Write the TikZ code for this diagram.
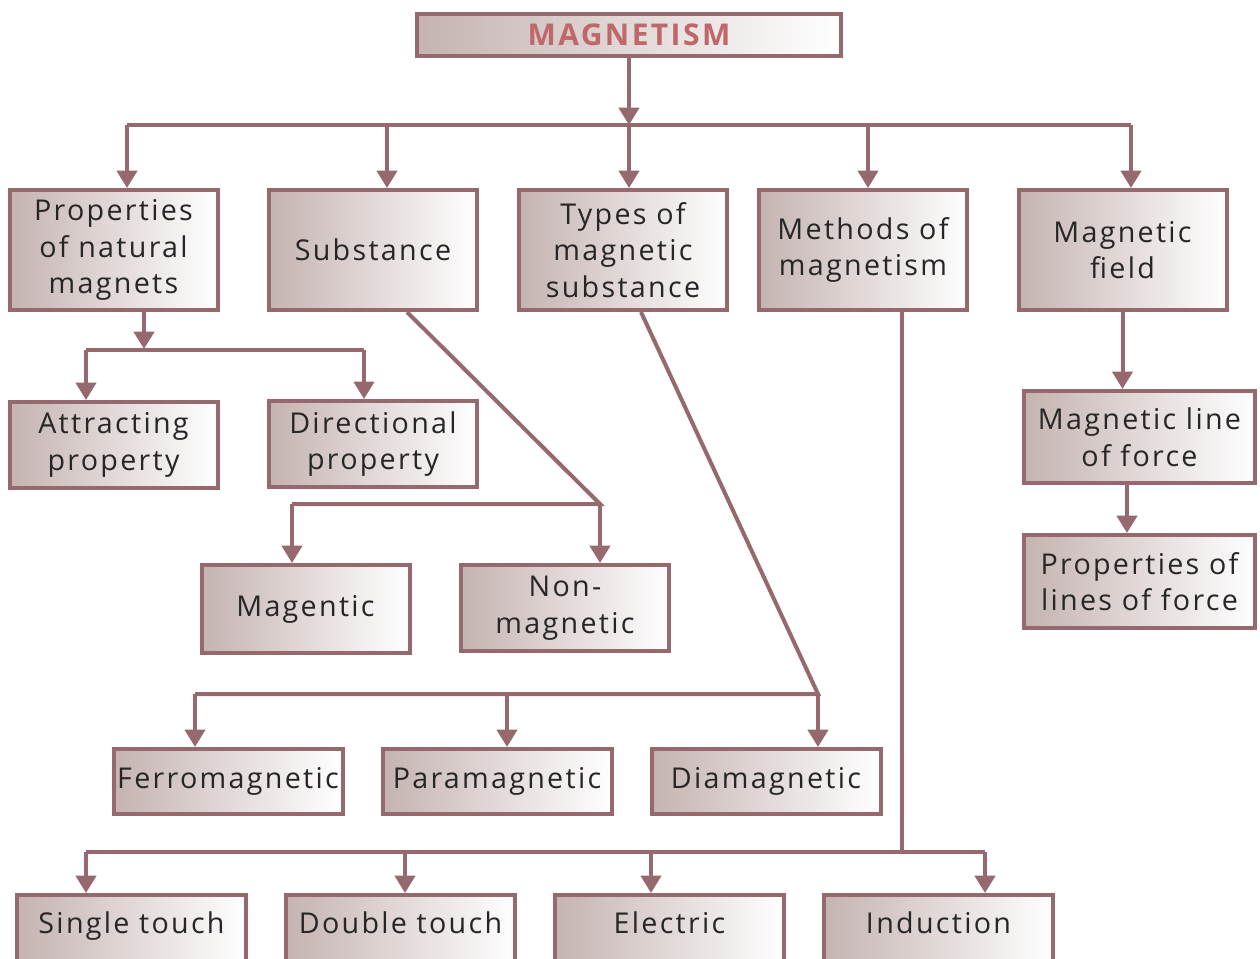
\documentclass[tikz,border=0pt]{standalone}
\usepackage{fontspec}
\setmainfont{Open Sans}[LetterSpace=8]
\usetikzlibrary{arrows.meta}

\definecolor{edgecol}{HTML}{96696E}
\definecolor{shadecol}{HTML}{C4B3B1}
\definecolor{titlecol}{HTML}{C0676A}

\tikzset{
  box/.style={draw=edgecol, line width=3pt, left color=shadecol, right color=white,
    align=center, text=black!85, inner sep=0pt, minimum width=156pt,
    font=\fontsize{21.5}{27.4}\selectfont},
  wide/.style={box, minimum width=171.75pt, minimum height=48.75pt},
  link/.style={draw=edgecol, line width=3pt},
  arr/.style={link, -{Triangle[width=15pt,length=13pt]}},
}

\begin{document}
\begin{tikzpicture}[x=0.75pt,y=-0.75pt]
\useasboundingbox (0,0) rectangle (1260,958);
\clip (0,0) rectangle (1260,958);

% top
\node[box, minimum width=318pt, minimum height=31.5pt, text=titlecol,
  font=\bfseries\fontsize{22.5}{26}\selectfont] (mag) at (629,35) {MAGNETISM};

% first row
\node[box, minimum height=90pt] (prop) at (113.5,250) {Properties\\of natural\\magnets};
\node[box, minimum height=90pt] (subs) at (373,250) {Substance};
\node[box, minimum height=90pt] (types) at (623,250) {Types of\\magnetic\\substance};
\node[box, minimum height=90pt] (meth) at (863,250) {Methods of\\magnetism};
\node[box, minimum height=90pt] (field) at (1122.5,250) {Magnetic\\field};

\coordinate (t0) at (629,125);
\coordinate (t1) at (127,125);
\coordinate (t2) at (387,125);
\coordinate (t3) at (629,125);
\coordinate (t4) at (868,125);
\coordinate (t5) at (1131,125);
\draw[arr] (mag) -- (t0);
\draw[link] (t1) -- (t5);
\foreach \t/\n in {t1/prop, t2/subs, t3/types, t4/meth, t5/field}
  \draw[arr] (\t) -- (\t |- \n.north);

% properties
\node[box, minimum height=64.5pt] (attr) at (113.5,445) {Attracting\\property};
\node[box, minimum height=64.5pt] (dirn) at (373,444) {Directional\\property};
\coordinate (p0) at (144,349);
\coordinate (p1) at (86,350);
\coordinate (p2) at (364,350);
\draw[arr] (prop.south -| p0) -- (p0);
\draw[link] (p1) -- (p2);
\draw[arr] (p1) -- (p1 |- attr.north);
\draw[arr] (p2) -- (p2 |- dirn.north);

% substance
\node[box, minimum height=66pt] (magc) at (305.5,609) {Magentic};
\node[box, minimum height=64.5pt] (nonm) at (565,608) {Non-\\magnetic};
\coordinate (s1) at (292,504);
\coordinate (s2) at (600,504);
\draw[link] ([xshift=25.5pt]subs.south) -- (s2) -- (s1);
\draw[arr] (s1) -- (s1 |- magc.north);
\draw[arr] (s2) -- (s2 |- nonm.north);

% types
\node[wide] (ferro) at (228,781.5) {Ferromagnetic};
\node[wide] (para) at (497,781.5) {Paramagnetic};
\node[wide] (dia) at (766,781.5) {Diamagnetic};
\coordinate (d1) at (195,694);
\coordinate (d2) at (507,694);
\coordinate (d3) at (818,694);
\draw[link] ([xshift=13.5pt]types.south) -- (d3) -- (d1);
\foreach \d/\n in {d1/ferro, d2/para, d3/dia}
  \draw[arr] (\d) -- (\d |- \n.north);

% methods
\tikzset{low/.style={box, anchor=north, minimum width=171.75pt, minimum height=0pt,
  text width=171.75pt, inner ysep=6pt, text height=23pt, text depth=40pt}}
\node[low] (single) at (131.5,893) {Single touch};
\node[low] (double) at (400.5,893) {Double touch};
\node[low] (elec) at (669.5,893) {Electric};
\node[low] (induc) at (938.5,893) {Induction};
\coordinate (m0) at (902,852);
\coordinate (m1) at (86,852);
\coordinate (m2) at (405,852);
\coordinate (m3) at (651,852);
\coordinate (m4) at (985,852);
\draw[link] ([xshift=29.25pt]meth.south) -- (m0);
\draw[link] (m1) -- (m4);
\foreach \m/\n in {m1/single, m2/double, m3/elec, m4/induc}
  \draw[arr] (\m) -- (\m |- \n.north);

% field
\node[box, minimum width=173pt, minimum height=69pt] (mline) at (1139.5,437) {Magnetic line\\of force};
\node[box, minimum width=173pt, minimum height=69.75pt] (plines) at (1139.5,581.5) {Properties of\\lines of force};
\draw[arr] (field.south) -- (field.south |- mline.north);
\coordinate (f1) at ([xshift=-9.4pt]mline.south);
\draw[arr] (f1) -- (f1 |- plines.north);
\end{tikzpicture}
\end{document}
